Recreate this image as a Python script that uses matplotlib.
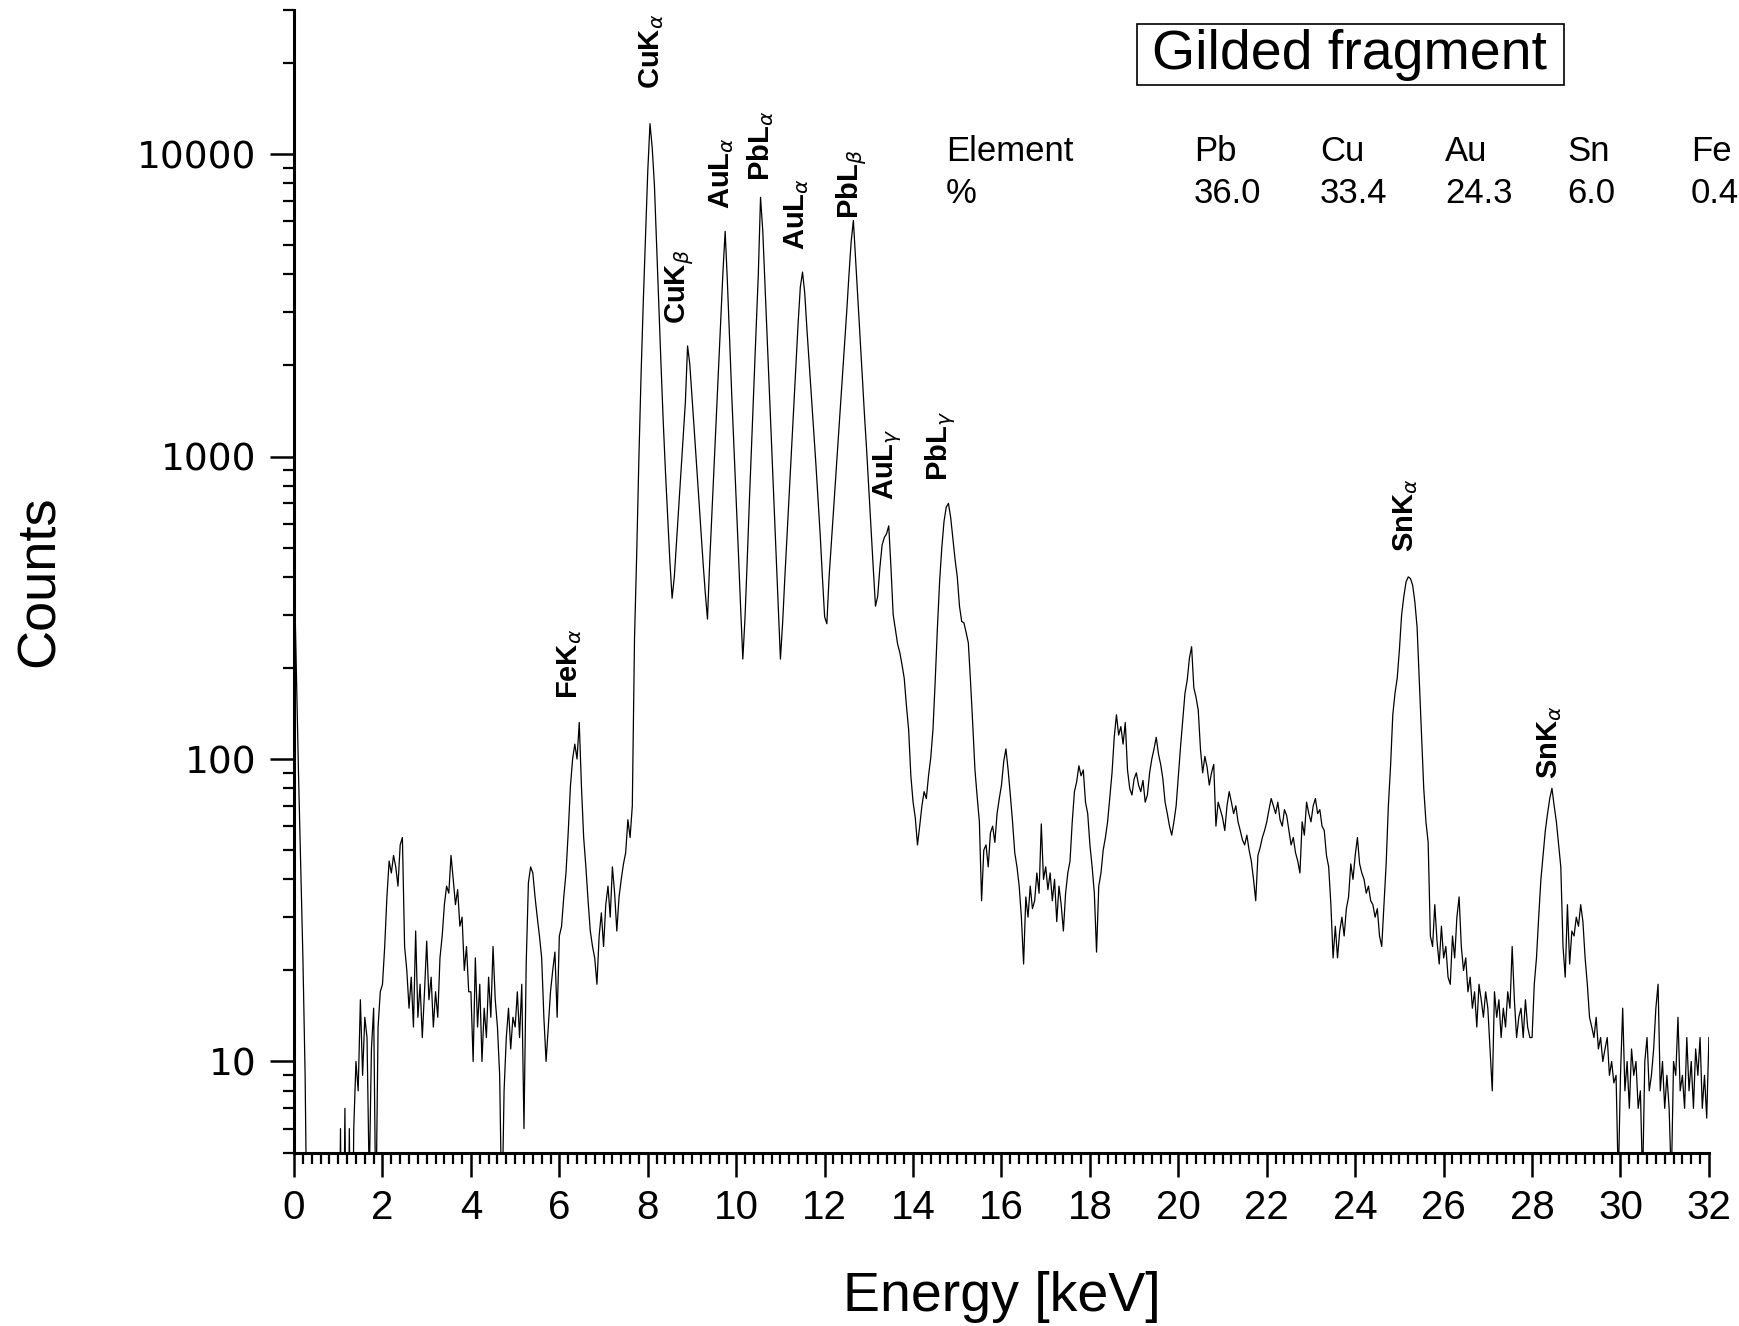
import numpy as np
import matplotlib
matplotlib.use("Agg")
import matplotlib.pyplot as plt
from matplotlib.ticker import MultipleLocator, LogLocator, NullFormatter
from matplotlib.patches import Rectangle

plt.rcParams['font.family'] = ['Liberation Sans', 'DejaVu Sans']

# spectrum, one value every 0.05 keV (one row = 1 keV)
counts_0_8 = [
    450, 200, 90, 45, 22, 9, 2, 1, 1, 1, 1, 1, 1, 1, 1, 1, 1, 1, 1, 1,
    1, 6, 1, 7, 1, 6, 1, 6, 10, 8, 16, 9, 14, 12, 4, 11, 15, 3, 13, 17,
    18, 24, 35, 46, 42, 48, 44, 38, 52, 55, 24, 20, 15, 19, 13, 27, 14, 18, 12, 17,
    25, 16, 19, 13, 17, 14, 22, 26, 33, 38, 36, 48, 40, 33, 37, 28, 30, 20, 24, 17,
    17, 10, 22, 13, 18, 10, 15, 12, 19, 14, 24, 16, 13, 9, 3, 8, 12, 15, 11, 14,
    13, 17, 12, 18, 6, 21, 39, 44, 42, 35, 30, 26, 22, 14, 10, 13, 17, 20, 23, 14,
    26, 28, 35, 42, 57, 81, 100, 112, 100, 132, 81, 55, 44, 34, 27, 24, 22, 18, 26, 31,
    24, 33, 38, 30, 44, 36, 27, 35, 40, 45, 49, 63, 55, 70, 250, 480, 1000, 1900, 3300, 5400,
]
counts_8_16 = [
    8800, 12600, 10500, 7900, 5000, 3200, 2000, 1300, 890, 630, 450, 340, 400, 525, 680, 890, 1175, 1510, 2320, 2020,
    1585, 1230, 955, 741, 575, 447, 355, 290, 447, 646, 933, 1350, 1950, 2820, 4070, 5550, 3800, 2450, 1585, 1070,
    710, 480, 316, 214, 295, 457, 724, 1120, 1740, 2630, 4000, 7190, 5600, 3720, 2510, 1660, 1100, 725, 490, 324,
    214, 282, 398, 550, 760, 1050, 1445, 2000, 2750, 3630, 4070, 3470, 2630, 2040, 1585, 1230, 955, 724, 550, 398,
    295, 280, 398, 513, 660, 850, 1100, 1410, 1820, 2340, 3020, 3980, 5130, 6030, 4470, 3350, 2510, 1860, 1380, 1050,
    775, 575, 427, 320, 345, 430, 510, 540, 555, 590, 430, 300, 268, 240, 225, 205, 185, 150, 125, 88,
    72, 64, 52, 60, 70, 78, 74, 88, 101, 125, 180, 270, 385, 500, 610, 680, 700, 630, 537, 457,
    400, 320, 285, 282, 262, 242, 180, 130, 92, 75, 62, 34, 50, 52, 44, 57, 60, 53, 66, 74,
]
counts_16_24 = [
    82, 98, 108, 92, 76, 62, 49, 44, 38, 30, 21, 35, 30, 38, 32, 34, 42, 36, 61, 40,
    44, 37, 42, 34, 40, 29, 38, 33, 27, 36, 42, 46, 62, 78, 84, 95, 88, 92, 72, 66,
    52, 44, 36, 23, 38, 42, 50, 55, 62, 75, 90, 118, 140, 120, 128, 112, 132, 92, 80, 76,
    86, 90, 82, 78, 85, 72, 76, 90, 100, 108, 118, 104, 96, 86, 72, 66, 60, 56, 62, 70,
    88, 110, 135, 165, 182, 215, 235, 172, 160, 145, 108, 90, 102, 94, 82, 90, 96, 60, 72, 68,
    64, 58, 70, 78, 72, 66, 70, 62, 58, 54, 52, 56, 50, 46, 40, 34, 48, 51, 55, 58,
    62, 68, 74, 70, 66, 72, 63, 60, 68, 65, 58, 52, 55, 49, 46, 42, 62, 56, 72, 66,
    62, 70, 74, 66, 68, 60, 58, 48, 44, 33, 22, 28, 22, 27, 30, 26, 32, 35, 45, 40,
]
counts_24_32 = [
    48, 55, 45, 42, 40, 36, 38, 34, 33, 30, 32, 26, 24, 33, 45, 70, 95, 140, 165, 185,
    230, 300, 345, 385, 400, 395, 375, 330, 272, 180, 120, 80, 62, 53, 26, 24, 33, 25, 21, 28,
    22, 24, 19, 18, 26, 22, 30, 35, 24, 20, 22, 17, 19, 15, 17, 13, 18, 16, 14, 17,
    15, 11, 8, 17, 14, 16, 12, 15, 13, 17, 15, 24, 16, 12, 14, 15, 12, 16, 13, 12,
    12, 18, 22, 30, 40, 48, 58, 66, 74, 80, 70, 62, 52, 44, 24, 19, 33, 21, 27, 26,
    30, 28, 33, 29, 22, 18, 14, 13, 12, 14, 11, 12, 10, 11, 12, 9, 10, 8.5, 9, 4,
    9, 15, 8, 10, 7, 11, 9, 10, 7, 8, 4, 10, 12, 8, 9, 11, 15, 18, 8, 10,
    7, 9, 7, 4, 10, 9, 14, 8, 9, 7, 12, 8, 10, 7, 11, 9, 12, 7, 9, 6.5,
    12,
]

counts = np.array(counts_0_8 + counts_8_16 + counts_16_24 + counts_24_32, dtype=float)
energy = np.arange(len(counts)) * 0.05

# peak labels: text, energy, counts where the label starts
peak_names = [r'FeK$_\alpha$', r'CuK$_\alpha$', r'CuK$_\beta$', r'AuL$_\alpha$', r'PbL$_\alpha$',
              r'AuL$_\alpha$', r'PbL$_\beta$', r'AuL$_\gamma$', r'PbL$_\gamma$',
              r'SnK$_\alpha$', r'SnK$_\alpha$']
peak_energy = [6.24, 8.08, 8.73, 9.66, 10.56, 11.36, 12.61, 13.42, 14.62, 25.13, 28.39]
peak_counts = [158, 16400, 2750, 6600, 8150, 4830, 6100, 720, 830, 485, 86]

# composition table
elements = ['Pb', 'Cu', 'Au', 'Sn', 'Fe']
percent = ['36.0', '33.4', '24.3', '6.0', '0.4']

y_ticks = [10, 100, 1000, 10000]
y_ticklabels = ['10', '100', '1000', '10000']

W, H = 1739, 1326
fig = plt.figure(figsize=(W / 100, H / 100), dpi=100)
ax = fig.add_axes([0.1691, 0.1308, 0.9827 - 0.1691, 0.9927 - 0.1308])

ax.plot(energy, counts, color='black', lw=0.9)

ax.set_yscale('log')
ax.set_xlim(0, 32)
ax.set_ylim(5, 30000)

ax.spines['top'].set_visible(False)
ax.spines['right'].set_visible(False)
ax.spines['left'].set_linewidth(2.2)
ax.spines['bottom'].set_linewidth(2.2)

ax.xaxis.set_major_locator(MultipleLocator(2))
ax.xaxis.set_minor_locator(MultipleLocator(0.2))
ax.set_yticks(y_ticks)
ax.set_yticklabels(y_ticklabels, fontfamily='DejaVu Sans')
ax.yaxis.set_minor_locator(LogLocator(base=10, subs=np.arange(2, 10)))
ax.yaxis.set_minor_formatter(NullFormatter())

ax.tick_params(axis='both', which='major', direction='out', length=17, width=1.8)
ax.tick_params(axis='both', which='minor', direction='out', length=8, width=1.6)
ax.tick_params(axis='x', which='major', labelsize=29, pad=9)
ax.tick_params(axis='y', which='major', labelsize=27, pad=10)

ax.set_xlabel('Energy [keV]', fontsize=40, labelpad=32)
ax.set_ylabel('Counts', fontsize=39, labelpad=52)

for name, e, c in zip(peak_names, peak_energy, peak_counts):
    ax.text(e, c, name, rotation=90, ha='center', va='bottom',
            fontsize=21, fontweight='bold')

# title box
fig.patches.append(Rectangle((1137 / W, 1 - 85 / H), 427 / W, 61 / H,
                             transform=fig.transFigure, fill=False,
                             edgecolor='black', lw=1.2))
fig.text(1350 / W, 1 - 55 / H, 'Gilded fragment', fontsize=40,
         ha='center', va='center')

# table
row1_y = 1 - 161 / H
row2_y = 1 - 203 / H
fig.text(946 / W, row1_y, 'Element', fontsize=25, va='baseline')
fig.text(946 / W, row2_y, '%', fontsize=25, va='baseline')
col_x = [1194, 1320, 1445, 1567, 1691]
for cx, el, pc in zip(col_x, elements, percent):
    fig.text(cx / W, row1_y, el, fontsize=25, va='baseline')
    fig.text(cx / W, row2_y, pc, fontsize=25, va='baseline')

fig.savefig('out.png', dpi=100)
